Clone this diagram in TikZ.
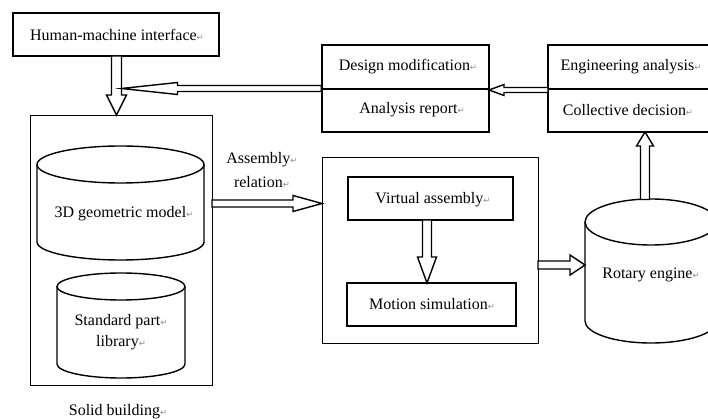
\documentclass[tikz,border=0pt]{standalone}
\usepackage{fontspec}
\setmainfont{Liberation Serif}
\newfontfamily\symfont{DejaVu Sans}
\usetikzlibrary{calc}

% paragraph mark after each label
\newcommand\pmark{{\symfont\fontsize{8.5}{8.5}\selectfont\textcolor{black!45}{↵}}}

% hollow block arrow: from, to, shaft half width, head half width, head length
\newcommand\blockarrow[5]{%
  \path ($(#2)!#5!(#1)$) coordinate (ab);
  \draw[arrowbody] ($(#1)!#3!90:(#2)$) -- ($(ab)!#3!-90:(#1)$)
    -- ($(ab)!#4!-90:(#1)$) -- (#2) -- ($(ab)!#4!90:(#1)$)
    -- ($(ab)!#3!90:(#1)$) -- ($(#1)!#3!-90:(#2)$) -- cycle;}

% open-front cylinder: centre x, top y, bottom y, x radius, top y radius, bottom y radius
\newcommand\drum[6]{%
  \draw[drumline] (#1-#4,#2) -- (#1-#4,#3)
    arc[start angle=180, end angle=0, x radius=#4, y radius=#6] -- (#1+#4,#2);
  \draw[drumline] (#1,#2) ellipse[x radius=#4, y radius=#5];}

\tikzset{
  box/.style={draw, line width=1.6pt, inner sep=0pt, fill=white},
  frame/.style={draw, line width=0.9pt, inner sep=0pt},
  drumline/.style={line width=1.4pt},
  arrowbody/.style={draw, fill=white, line width=1.4pt},
  lbl/.style={inner sep=0pt, font=\fontsize{16}{18.5}\selectfont},
}

\begin{document}
\begin{tikzpicture}[x=1pt, y=-1pt]
\useasboundingbox (0,0) rectangle (708,419);

% outer groups
\node[frame, minimum width=182pt, minimum height=270pt] (solid) at (121,250) {};
\node[lbl] (solidlbl) at (118,412) {Solid building\pmark};
\node[frame, minimum width=216pt, minimum height=186pt] (virt) at (430,250) {};

% top boxes
\node[box, minimum width=206pt, minimum height=43pt] (hmi) at (116,34.5) {};
\node[lbl] (hmilbl) at (117,34.5) {Human-machine interface\pmark};

\node[box, minimum width=167pt, minimum height=87pt] (dm) at (405.5,88.5) {};
\node[box, minimum width=180pt, minimum height=87pt] (ea) at (638,88.5) {};
\draw[line width=2pt] (dm.west |- 0,89) -- (dm.east |- 0,89);
\draw[line width=2pt] (ea.west |- 0,89) -- (ea.east |- 0,89);
\node[lbl] (dmlbl) at (408,67) {Design modification\pmark};
\node[lbl] (arlbl) at (412,110) {Analysis report\pmark};
\node[lbl] (ealbl) at (631,67) {Engineering analysis\pmark};
\node[lbl] (cdlbl) at (628,110) {Collective decision\pmark};

% cylinders
\drum{120.5}{164.5}{242}{83.5}{18.5}{18}
\node[lbl] (geo) at (124,214) {3D geometric model\pmark};
\drum{121}{286.5}{364}{64}{13.5}{14}
\node[lbl, align=center] (std) at (121,332) {Standard part\pmark\\[2pt]library\pmark};
\drum{651}{222}{321}{66}{23}{22}
\node[lbl] (rot) at (651,275) {Rotary engine\pmark};

% inner boxes of the assembly group
\node[box, minimum width=165pt, minimum height=43pt] (va) at (430.5,198.5) {};
\node[lbl] (valbl) at (433,200) {Virtual assembly\pmark};
\node[box, minimum width=169pt, minimum height=43pt] (ms) at (431.5,304.5) {};
\node[lbl] (mslbl) at (432,304) {Motion simulation\pmark};

\node[lbl] (asm1) at (262,160) {Assembly\pmark};
\node[lbl] (asm2) at (262,182) {relation\pmark};

% connector end points
\coordinate (h1) at (116.5,56);
\coordinate (h2) at (116.5,115);
\coordinate (j) at (121.5,88.5);
\coordinate (d1) at (dm.west |- j);
\coordinate (e1) at (548,90);
\coordinate (e2) at (489,90);
\coordinate (s1) at (212,203.5);
\coordinate (s2) at (322,203.5);
\coordinate (v1) at (427,220);
\coordinate (v2) at (427,283);
\coordinate (r1) at (538,265);
\coordinate (r2) at (585,265);
\coordinate (rtop) at (645,199.5);
\coordinate (cdb) at (645,132);

% block arrows
\blockarrow{h1}{h2}{5pt}{10pt}{20pt}
\blockarrow{d1}{j}{3pt}{6pt}{56pt}
\blockarrow{e1}{e2}{2.5pt}{5.5pt}{15pt}
\blockarrow{s1}{s2}{3.5pt}{8pt}{29pt}
\blockarrow{v1}{v2}{4.5pt}{9.5pt}{26pt}
\blockarrow{r1}{r2}{4pt}{10pt}{15pt}
\blockarrow{rtop}{cdb}{4.5pt}{8.5pt}{14pt}
\end{tikzpicture}
\end{document}
